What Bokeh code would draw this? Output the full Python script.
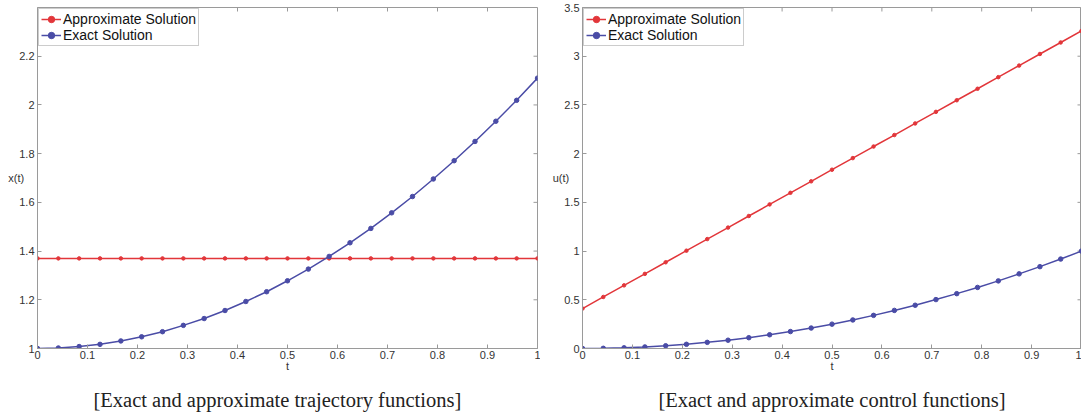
from bokeh.plotting import figure
from bokeh.models import (FixedTicker, CustomJSTickFormatter, Legend, LegendItem, Range1d, Title)
from bokeh.layouts import row
from bokeh.embed import file_html
from bokeh.resources import INLINE

# ---- data ----
t = [0, 0.0417, 0.0833, 0.125, 0.1667, 0.2083, 0.25, 0.2917, 0.3333, 0.375, 0.4167, 0.4583,
     0.5, 0.5417, 0.5833, 0.625, 0.6667, 0.7083, 0.75, 0.7917, 0.8333, 0.875, 0.9167, 0.9583, 1.0]
x_exact = [1.000, 1.002, 1.008, 1.017, 1.031, 1.048, 1.069, 1.095, 1.123, 1.156, 1.193, 1.233,
           1.278, 1.326, 1.378, 1.434, 1.493, 1.557, 1.624, 1.696, 1.771, 1.850, 1.933, 2.019, 2.110]
x_approx = [1.37] * 25
u_approx = [0.41, 0.529, 0.648, 0.766, 0.885, 1.004, 1.123, 1.241, 1.36, 1.479, 1.598, 1.716,
            1.835, 1.954, 2.073, 2.191, 2.31, 2.429, 2.548, 2.666, 2.785, 2.904, 3.023, 3.141, 3.26]
u_exact = [0, 0.002, 0.007, 0.016, 0.028, 0.043, 0.063, 0.085, 0.111, 0.141, 0.174, 0.210, 0.250,
           0.293, 0.340, 0.391, 0.444, 0.502, 0.563, 0.627, 0.694, 0.766, 0.840, 0.918, 1.000]
x_ticks = [0, 0.1, 0.2, 0.3, 0.4, 0.5, 0.6, 0.7, 0.8, 0.9, 1]
y1_ticks = [1, 1.2, 1.4, 1.6, 1.8, 2, 2.2]
y2_ticks = [0, 0.5, 1, 1.5, 2, 2.5, 3, 3.5]
series_labels = ["Approximate Solution", "Exact Solution"]
captions = ["[Exact and approximate trajectory functions]", "[Exact and approximate control functions]"]
ylabels = ["x(t)", "u(t)"]

RED = "#e2363a"
BLUE = "#4a4ca6"
AXC = "#9a9a9a"
TXT = "#333333"
FONT = "Liberation Sans"
FRAME_H, TICK = 341, 4

fmt = CustomJSTickFormatter(code="return String(Math.round(tick*10)/10)")


def make(approx, exact, yr, yticks, ylabel, caption, frame_w, left_border, right_border,
         cap_align, cap_offset):
    p = figure(frame_width=frame_w, frame_height=FRAME_H, output_backend="svg", toolbar_location=None,
               x_range=Range1d(0, 1), y_range=Range1d(*yr),
               min_border_left=left_border, min_border_right=right_border,
               min_border_top=7, min_border_bottom=0,
               x_axis_label="t", y_axis_label=ylabel)
    p.grid.visible = False
    p.outline_line_color = AXC
    p.background_fill_color = "white"
    p.border_fill_color = "white"
    for ax in [p.xaxis[0], p.yaxis[0]]:
        ax.formatter = fmt
        ax.axis_line_color = AXC
        ax.major_tick_line_color = AXC
        ax.major_tick_in = TICK
        ax.major_tick_out = 0
        ax.minor_tick_line_color = None
        ax.major_label_text_font = FONT
        ax.major_label_text_font_size = "11px"
        ax.major_label_text_color = TXT
        ax.axis_label_text_font = FONT
        ax.axis_label_text_font_size = "11px"
        ax.axis_label_text_font_style = "normal"
        ax.axis_label_text_color = TXT
    p.xaxis[0].ticker = FixedTicker(ticks=x_ticks)
    p.yaxis[0].ticker = FixedTicker(ticks=yticks)
    p.xaxis[0].major_label_standoff = 2
    p.xaxis[0].axis_label_standoff = -2
    p.yaxis[0].major_label_standoff = 3
    p.yaxis[0].axis_label_orientation = "horizontal"
    p.yaxis[0].axis_label_standoff = -8

    # mirrored box ticks (top and right), drawn from the tick lists
    ymin, ymax = yr
    dy = (ymax - ymin) * TICK / FRAME_H
    dx = 1.0 * TICK / frame_w
    p.segment(x0=x_ticks, y0=[ymax] * len(x_ticks), x1=x_ticks, y1=[ymax - dy] * len(x_ticks),
              line_color=AXC, line_width=1)
    p.segment(x0=[1.0] * len(yticks), y0=yticks, x1=[1.0 - dx] * len(yticks), y1=yticks,
              line_color=AXC, line_width=1)

    r1 = p.line(t, approx, color=RED, line_width=1.5)
    m1 = p.scatter(t, approx, color=RED, size=3.5)
    r2 = p.line(t, exact, color=BLUE, line_width=1.5)
    m2 = p.scatter(t, exact, color=BLUE, size=4.5)
    leg = Legend(items=[LegendItem(label=series_labels[0], renderers=[r1, m1]),
                        LegendItem(label=series_labels[1], renderers=[r2, m2])],
                 location="top_left", margin=1, padding=2, spacing=0,
                 label_text_font=FONT, label_text_font_size="14px", label_text_color="#111111",
                 label_height=16, glyph_height=16, glyph_width=20, label_standoff=2,
                 border_line_color=AXC, background_fill_alpha=1)
    p.add_layout(leg, "center")
    title = Title(text=caption, align=cap_align, text_font="Liberation Serif",
                  text_font_size="20.5px", text_font_style="normal", text_color="#222222",
                  standoff=24, offset=cap_offset)
    p.add_layout(title, "below")
    return p


p1 = make(x_approx, x_exact, (1, 2.4), y1_ticks, ylabels[0], captions[0], 500, 37, 3, "left", 56)
p2 = make(u_approx, u_exact, (0, 3.5), y2_ticks, ylabels[1], captions[1], 499, 42, 0, "center", 0)
layout = row(p1, p2, spacing=0)
open("out.html", "w").write(file_html(layout, INLINE))
